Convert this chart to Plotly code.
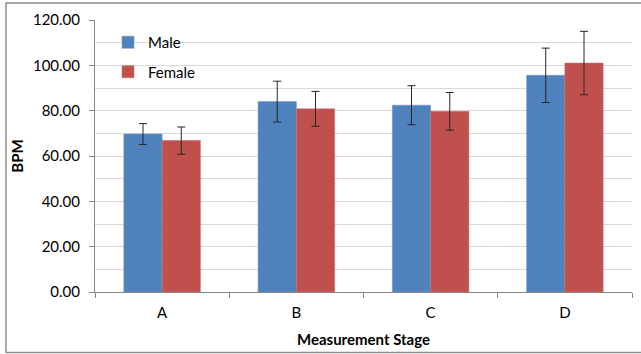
import plotly.graph_objects as go

# Heart rate by measurement stage
stages = ["A", "B", "C", "D"]
male_bpm = [69.7, 84.0, 82.4, 95.6]
male_err = [4.6, 9.0, 8.6, 12.0]
female_bpm = [66.8, 80.8, 79.7, 101.0]
female_err = [6.0, 7.7, 8.3, 14.0]
y_ticks = [0, 20, 40, 60, 80, 100, 120]
y_tick_text = ["%.2f" % v for v in y_ticks]

FONT = "Lato, 'Liberation Sans', Arial, sans-serif"
W, H = 641, 354
ML, MR, MT, MB = 95, 9, 20, 62

err_style = dict(type="data", thickness=1, width=4, color="#262626")

fig = go.Figure()
fig.add_trace(go.Bar(
    name="Male", x=stages, y=male_bpm,
    marker=dict(color="#4F81BD", line=dict(color="#6d98cc", width=0.6)),
    error_y=dict(array=male_err, **err_style),
    legendgroup="m",
))
fig.add_trace(go.Bar(
    name="Female", x=stages, y=female_bpm,
    marker=dict(color="#C0504D", line=dict(color="#cf6f6c", width=0.6)),
    error_y=dict(array=female_err, **err_style),
    legendgroup="f",
))

pw = W - ML - MR
ph = H - MT - MB


def px_x(p):
    return (p - ML) / pw


def px_y(p):
    return (H - MB - p) / ph


# outer chart frame
fig.add_shape(type="rect", xref="paper", yref="paper",
              x0=px_x(6), x1=px_x(646), y0=px_y(352.5), y1=px_y(3),
              line=dict(color="#8c8c8c", width=1.5), fillcolor="rgba(0,0,0,0)",
              layer="below")

fig.update_layout(
    width=W, height=H,
    margin=dict(l=ML, r=MR, t=MT, b=MB),
    paper_bgcolor="white", plot_bgcolor="white",
    barmode="group", bargap=0.43, bargroupgap=0,
    font=dict(family=FONT, size=15, color="#000000"),
    showlegend=True,
    legend=dict(
        x=px_x(108), y=px_y(26), xanchor="left", yanchor="top",
        bgcolor="rgba(0,0,0,0)", font=dict(size=15, color="#000000"),
        tracegroupgap=7, traceorder="grouped",
    ),
    xaxis=dict(
        showline=True, linecolor="#868686", linewidth=1,
        ticks="outside", ticklen=5, tickcolor="#868686",
        tickson="boundaries", showgrid=False,
        ticklabelstandoff=7,
        title=dict(text="<b>Measurement Stage</b>", font=dict(size=15), standoff=14),
        tickfont=dict(size=15),
    ),
    yaxis=dict(
        range=[0, 120], tickvals=y_ticks, ticktext=y_tick_text,
        showline=True, linecolor="#868686", linewidth=1,
        ticks="outside", ticklen=5, tickcolor="#868686",
        ticklabelstandoff=6,
        showgrid=True, gridcolor="#d9d9d9", gridwidth=1,
        minor=dict(dtick=10, showgrid=True, gridcolor="#d9d9d9", gridwidth=1, ticks=""),
        zeroline=False,
        title=dict(text="<b>BPM</b>", font=dict(size=15), standoff=5),
        tickfont=dict(size=15),
    ),
)

fig.write_html("out.html")
